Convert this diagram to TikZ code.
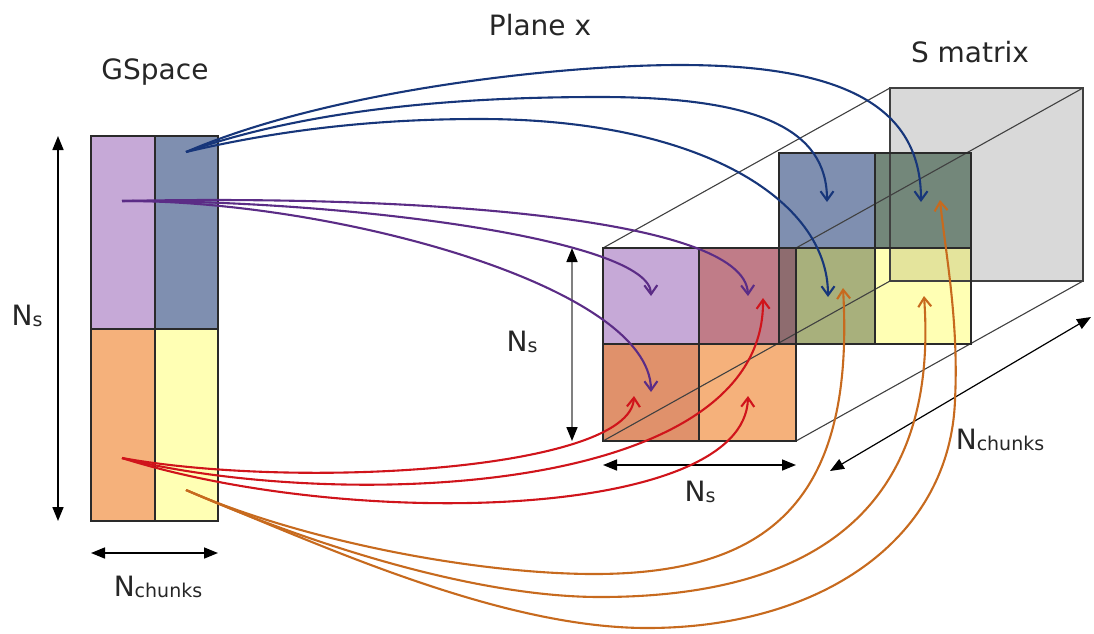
\documentclass[tikz,border=0pt]{standalone}
\usepackage{fontspec}
\setmainfont{DejaVu Sans}
\usetikzlibrary{arrows.meta}
\definecolor{cPurple}{HTML}{C6A9D7}
\definecolor{cBlue}{HTML}{7F8FB0}
\definecolor{cOrange}{HTML}{F5B17B}
\definecolor{cYellow}{HTML}{FFFFB4}
\definecolor{cRedCell}{HTML}{C07C88}
\definecolor{cDarkOrange}{HTML}{E0916B}
\definecolor{cGreen}{HTML}{A8B07C}
\definecolor{cDark}{HTML}{73877A}
\definecolor{cStrip}{HTML}{8E6C6F}
\definecolor{cYellowGrey}{HTML}{E4E49C}
\definecolor{cBack}{HTML}{D9D9D9}
\definecolor{cBorder}{HTML}{2A2A2A}
\definecolor{lBlue}{HTML}{17367A}
\definecolor{lPurple}{HTML}{5B2C86}
\definecolor{lRed}{HTML}{D0141B}
\definecolor{lOrange}{HTML}{C76A1E}
\newcommand{\Nsub}[1]{N\raisebox{-1.5pt}{\fontsize{19}{19}\selectfont #1}}
\begin{document}
\begin{tikzpicture}[x=1pt,y=-1pt,
  lbl/.style={font=\fontsize{28}{30}\selectfont, inner sep=0pt, text=black!85},
  cell/.style={draw=cBorder, line width=2.2pt},
  cubeedge/.style={draw=black!75, line width=1.1pt},
  dimarrow/.style={line width=1.6pt, {Triangle[length=14pt,width=11pt,color=black]}-{Triangle[length=14pt,width=11pt,color=black]}},
  link/.style={line width=2.1pt, -{Straight Barb[length=9pt,width=13pt]}}
]
\useasboundingbox (0,0) rectangle (1094,633);

% ---------- GSpace block ----------
\fill[cPurple] (91,136) rectangle (155,329);
\fill[cBlue]   (155,136) rectangle (218,329);
\fill[cOrange] (91,329) rectangle (155,521);
\fill[cYellow] (155,329) rectangle (218,521);
\draw[cell] (91,136) rectangle (218,521);
\draw[cell] (155,136) -- (155,521);
\draw[cell] (91,329) -- (218,329);

% ---------- S matrix cuboid ----------
\fill[cBack] (890,88) rectangle (1083,281);
% back layer cells
\fill[cBlue]   (779,153) rectangle (875,248);
\fill[cDark]   (875,153) rectangle (971,248);
\fill[cGreen]  (779,248) rectangle (875,344);
\fill[cYellow] (875,248) rectangle (971,344);
\fill[cYellowGrey] (890,248) rectangle (971,281);
% front layer cells
\fill[cPurple]     (603,248) rectangle (699,344);
\fill[cRedCell]    (699,248) rectangle (796,344);
\fill[cDarkOrange] (603,344) rectangle (699,441);
\fill[cOrange]     (699,344) rectangle (796,441);
\fill[cStrip]      (779,248) rectangle (796,344);
% cuboid edges
\draw[cubeedge] (890,88) rectangle (1083,281);
\draw[cubeedge] (603,248) -- (890,88);
\draw[cubeedge] (796,248) -- (1083,88);
\draw[cubeedge] (796,441) -- (1083,281);
\draw[cubeedge] (603,441) -- (890,281);
% cell borders
\draw[cell] (779,153) rectangle (971,344);
\draw[cell] (875,153) -- (875,344);
\draw[cell] (779,248) -- (971,248);
\draw[cell] (603,248) rectangle (796,441);
\draw[cell] (699,248) -- (699,441);
\draw[cell] (603,344) -- (796,344);

% ---------- labels ----------
\node[lbl] (tGSpace) at (155,72) {GSpace};
\node[lbl] (tPlane)  at (540,25) {Plane x};
\node[lbl] (tSmat)   at (970,52) {S matrix};
\node[lbl] (lNsL)    at (27,316) {\Nsub{s}};
\node[lbl] (lNchL)   at (158,587) {\Nsub{chunks}};
\node[lbl] (lNsM)    at (522,342) {\Nsub{s}};
\node[lbl] (lNsB)    at (700,492) {\Nsub{s}};
\node[lbl] (lNchR)   at (1000,440) {\Nsub{chunks}};

% ---------- dimension arrows ----------
\coordinate (dL1) at (58,136);  \coordinate (dL2) at (58,521);
\coordinate (dB1) at (91,553);  \coordinate (dB2) at (218,553);
\coordinate (dM1) at (572,248); \coordinate (dM2) at (572,441);
\coordinate (dH1) at (603,465); \coordinate (dH2) at (796,465);
\coordinate (dD1) at (830,471); \coordinate (dD2) at (1091,317);
\draw[dimarrow] (dL1) -- (dL2);
\draw[dimarrow] (dB1) -- (dB2);
\draw[dimarrow, draw=black!50] (dM1) -- (dM2);
\draw[dimarrow] (dH1) -- (dH2);
\draw[dimarrow, line width=1.2pt] (dD1) -- (dD2);

% ---------- sources and targets ----------
\coordinate (srcB) at (186,152);
\coordinate (srcP) at (122,201);
\coordinate (srcR) at (122,458);
\coordinate (srcO) at (186,490);
\coordinate (tB1) at (921,202);
\coordinate (tB2) at (827,202);
\coordinate (tB3) at (828,297);
\coordinate (tP1) at (748,296);
\coordinate (tP2) at (651,296);
\coordinate (tP3) at (651,392);
\coordinate (tR1) at (634,396);
\coordinate (tR2) at (763,298);
\coordinate (tR3) at (748,396);
\coordinate (tO1) at (843,288);
\coordinate (tO2) at (924,296);
\coordinate (tO3) at (940,200);

% ---------- connectors ----------
\draw[link, lBlue] (srcB) .. controls (330,90) and (560,65) .. (680,65)
                          .. controls (850,65) and (921,110) .. (tB1);
\draw[link, lBlue] (srcB) .. controls (320,105) and (480,97) .. (600,97)
                          .. controls (760,97) and (827,130) .. (tB2);
\draw[link, lBlue] (srcB) .. controls (300,125) and (400,119) .. (480,119)
                          .. controls (700,119) and (828,200) .. (tB3);

\draw[link, lPurple] (srcP) .. controls (400,195) and (745,215) .. (tP1);
\draw[link, lPurple] (srcP) .. controls (350,200) and (650,240) .. (tP2);
\draw[link, lPurple] (srcP) .. controls (330,200) and (650,285) .. (tP3);

\draw[link, lRed] (srcR) .. controls (300,490) and (630,470) .. (tR1);
\draw[link, lRed] (srcR) .. controls (330,510) and (765,500) .. (tR2);
\draw[link, lRed] (srcR) .. controls (350,530) and (745,520) .. (tR3);

\draw[link, lOrange] (srcO) .. controls (300,540) and (470,573) .. (590,574)
                            .. controls (770,575) and (855,500) .. (tO1);
\draw[link, lOrange] (srcO) .. controls (300,540) and (470,597) .. (600,597)
                            .. controls (800,597) and (940,520) .. (tO2);
\draw[link, lOrange] (srcO) .. controls (320,545) and (500,628) .. (647,628)
                            .. controls (820,628) and (950,540) .. (955,400)
                            .. controls (959,320) and (945,250) .. (tO3);
\end{tikzpicture}
\end{document}
